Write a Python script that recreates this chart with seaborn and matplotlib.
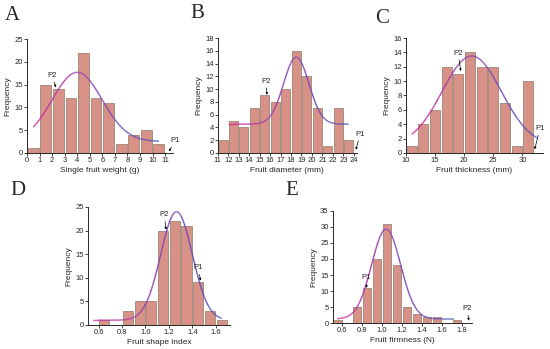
import numpy as np
import matplotlib
matplotlib.use("Agg")
import matplotlib.pyplot as plt
import seaborn as sns
from matplotlib.collections import LineCollection
from matplotlib.colors import LinearSegmentedColormap

# Histogram counts (bin edges and counts)
a_edges = [0, 1, 2, 3, 4, 5, 6, 7, 8, 9, 10, 11]
a_counts = [1, 15, 14, 12, 22, 12, 11, 2, 4, 5, 2]
b_edges = [11, 12, 13, 14, 15, 16, 17, 18, 19, 20, 21, 22, 23, 24]
b_counts = [2, 5, 4, 7, 9, 8, 10, 16, 12, 7, 1, 7, 2]
c_edges = [10, 12, 14, 16, 18, 20, 22, 24, 26, 28, 30, 32]
c_counts = [1, 4, 6, 12, 11, 14, 12, 12, 7, 1, 10]
d_edges = [0.6, 0.7, 0.8, 0.9, 1.0, 1.1, 1.2, 1.3, 1.4, 1.5, 1.6, 1.7]
d_counts = [1, 0, 3, 5, 5, 20, 22, 21, 9, 3, 1]
e_edges = [0.5, 0.6, 0.7, 0.8, 0.9, 1.0, 1.1, 1.2, 1.3, 1.4, 1.5, 1.6, 1.7, 1.8]
e_counts = [1, 0, 5, 11, 20, 31, 18, 5, 3, 2, 2, 0, 1]

a_fit = [2.5, 15.2, 4.0, 1.98, 0.5, 10.5]
b_fit = [4.5, 10.5, 18.5, 1.21, 12.0, 23.5]
c_fit = [1.0, 12.5, 21.3, 5.07, 11.0, 32.5]
d_fit = [1.0, 23.0, 1.265, 0.135, 0.55, 1.65]
e_fit = [1.3, 28.0, 1.04, 0.145, 0.55, 1.72]

bar_color = "#d79187"
edge_color = "#8c7868"
curve_cmap = LinearSegmentedColormap.from_list("fit", ["#d42c9a", "#8a48b8", "#5058b8"])

sns.set_style("ticks")
plt.rcParams["font.family"] = ["Liberation Sans", "DejaVu Sans"]

fig = plt.figure(figsize=(5.5, 3.49), dpi=100)

panels = [
    ("A", [0.049, 0.562, 0.265, 0.326], a_edges, a_counts, a_fit, "Single fruit weight (g)",
     (0, 11.6), np.arange(0, 12, 1), (0, 25), np.arange(0, 26, 5),
     [("P2", (2.0, 16.3), (2.3, 14.4)), ("P1", (11.8, 2.0), (11.3, 0.3))]),
    ("B", [0.396, 0.562, 0.253, 0.329], b_edges, b_counts, b_fit, "Fruit diameter (mm)",
     (11, 24.3), np.arange(11, 25, 1), (0, 18), np.arange(0, 19, 2),
     [("P2", (15.6, 10.7), (15.7, 9.1)), ("P1", (24.6, 2.4), (24.2, 0.5))]),
    ("C", [0.738, 0.562, 0.249, 0.329], c_edges, c_counts, c_fit, "Fruit thickness (mm)",
     (10, 33.5), np.arange(10, 31, 5), (0, 16), np.arange(0, 17, 2),
     [("P2", (19.0, 13.4), (19.4, 11.4)), ("P1", (33.0, 2.9), (32.1, 0.5))]),
    ("D", [0.16, 0.069, 0.258, 0.338], d_edges, d_counts, d_fit, "Fruit shape index",
     (0.51, 1.72), np.arange(0.6, 1.61, 0.2), (0, 25), np.arange(0, 26, 5),
     [("P2", (1.16, 22.6), (1.175, 20.2)), ("P1", (1.45, 11.4), (1.47, 9.4))]),
    ("E", [0.605, 0.074, 0.253, 0.322], e_edges, e_counts, e_fit, "Fruit firmness (N)",
     (0.505, 1.9), np.arange(0.6, 1.81, 0.2), (0, 35), np.arange(0, 36, 5),
     [("P1", (0.837, 13.0), (0.845, 11.0)), ("P2", (1.85, 3.4), (1.87, 0.8))]),
]

for letter, rect, edges, counts, fit, xlab, xlim, xt, ylim, yt, notes in panels:
    ax = fig.add_axes(rect)
    centers = [(edges[i] + edges[i + 1]) / 2 for i in range(len(counts))]
    sns.histplot(x=centers, weights=counts, bins=edges, shrink=0.86, color=bar_color,
                 edgecolor=edge_color, linewidth=0.5, alpha=1, ax=ax)
    # fitted Gaussian with gradient colour
    y0, amp, xc, w, x0, x1 = fit
    xs = np.linspace(x0, x1, 200)
    ys = y0 + amp * np.exp(-(xs - xc) ** 2 / (2 * w ** 2))
    pts = np.column_stack([xs, ys]).reshape(-1, 1, 2)
    segs = np.concatenate([pts[:-1], pts[1:]], axis=1)
    lc = LineCollection(segs, cmap=curve_cmap, linewidth=1.0)
    lc.set_array(np.linspace(0, 1, len(segs)))
    ax.add_collection(lc)

    ax.set_xlim(*xlim)
    ax.set_ylim(*ylim)
    ax.set_xticks(xt)
    ax.set_yticks(yt)
    if xt[0] < 5:
        ax.set_xticklabels([f"{v:.1f}" if v < 5 and abs(v - round(v)) > 1e-6 or letter in "DE" else f"{v:g}" for v in xt])
    ax.tick_params(labelsize=5.5, length=2, width=0.6, pad=1)
    for s in ["left", "bottom"]:
        ax.spines[s].set_linewidth(0.7)
    sns.despine(ax=ax)
    ax.set_xlabel(xlab, fontsize=6, labelpad=2)
    ax.set_ylabel("Frequency", fontsize=6, labelpad=2)
    for txt, tpos, apos in notes:
        ax.annotate(txt, xy=apos, xytext=tpos, fontsize=5.5, ha="center", va="bottom",
                    annotation_clip=False,
                    arrowprops=dict(arrowstyle="-|>", color="black", lw=0.5,
                                    mutation_scale=3, shrinkA=0, shrinkB=0))

letters = [("A", 0.022, 0.955), ("B", 0.358, 0.962), ("C", 0.695, 0.948),
           ("D", 0.033, 0.455), ("E", 0.531, 0.455)]
for t, x, y in letters:
    fig.text(x, y, t, fontsize=15, family="Liberation Serif", ha="center", va="center")

fig.savefig("out.png", dpi=100)
